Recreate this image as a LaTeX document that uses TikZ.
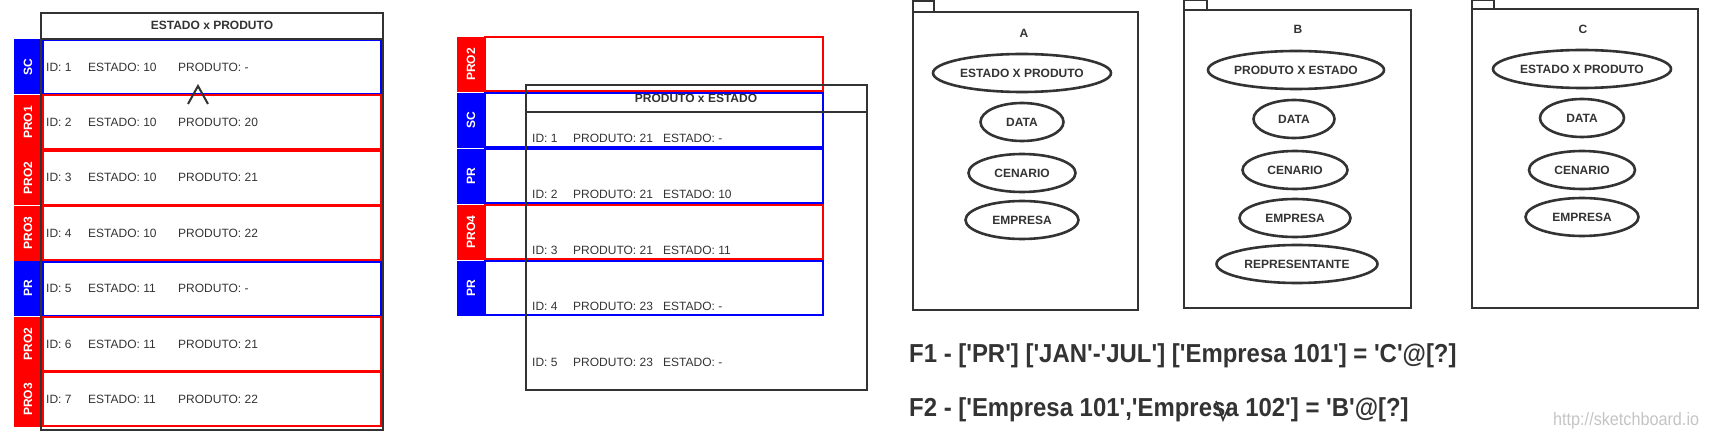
\documentclass[tikz,border=0pt]{standalone}
\usepackage{fontspec}
\setmainfont{Liberation Sans}[Ligatures=TeXOff]
\usetikzlibrary{positioning, calc}
\usetikzlibrary{shapes.geometric}

\definecolor{ink}{HTML}{333333}
\definecolor{redrow}{HTML}{FF0000}
\definecolor{bluerow}{HTML}{0000FF}
\definecolor{mark}{HTML}{C4C4C4}

\tikzset{
    rowbox/.style={draw, line width=2pt, minimum width=338pt, minimum height=54pt, inner sep=0pt},
    tabbox/.style={rotate=90, minimum width=55pt, minimum height=28pt, inner sep=0pt, text=white, font=\bfseries\fontsize{12}{14}\selectfont},
    celltxt/.style={anchor=west, inner sep=0pt, text=ink, font=\fontsize{12}{14}\selectfont},
    headtxt/.style={inner sep=0pt, text=ink, font=\bfseries\fontsize{12}{14}\selectfont},
    frame/.style={draw=ink, line width=2.6pt},
    usecase/.style={ellipse, draw=ink, line width=2.6pt, inner sep=0pt, minimum height=38pt, text=ink, font=\bfseries\fontsize{12}{14}\selectfont},
    bigtxt/.style={anchor=west, inner sep=0pt, text=ink, font=\bfseries\fontsize{26}{30}\selectfont}
}

\begin{document}
\begin{tikzpicture}[x=1pt, y=-1pt]
    \useasboundingbox (0,0) rectangle (1712,446);

    % ESTADO x PRODUTO
    \foreach \tb/\cl/\id/\es/\pr [count=\i from 0] in {SC/bluerow/1/10/-, PRO1/redrow/2/10/20, PRO2/redrow/3/10/21, PRO3/redrow/4/10/22, PR/bluerow/5/11/-, PRO2/redrow/6/11/21, PRO3/redrow/7/11/22}{
        \pgfmathsetmacro{\yc}{67+55.4*\i}
        \node[rowbox, draw=\cl] (rowL\i) at (212,\yc) {};
        \node[tabbox, fill=\cl] (tabL\i) at (28,\yc) {\tb};
        \node[celltxt] (idL\i) at (46,\yc) {ID: \id};
        \node[celltxt] (estL\i) at (88,\yc) {ESTADO: \es};
        \node[celltxt] (prodL\i) at (178,\yc) {PRODUTO: \pr};
    }
    \draw[frame] (41,13) rectangle (383,430);
    \draw[frame] (41,39) -- (383,39);
    \node[headtxt] (headL) at (212,25) {ESTADO x PRODUTO};
    \coordinate (caretL) at (198,86);
    \draw[ink, line width=2pt] ($(caretL)+(-10,18)$) -- (caretL) -- ($(caretL)+(10,18)$);

    % PRODUTO x ESTADO
    \foreach \tb/\cl [count=\i from 0] in {PRO2/redrow, SC/bluerow, PR/bluerow, PRO4/redrow, PR/bluerow}{
        \pgfmathsetmacro{\yc}{64.5+55.9*\i}
        \node[rowbox, draw=\cl] (rowM\i) at (654,\yc) {};
        \node[tabbox, fill=\cl] (tabM\i) at (471,\yc) {\tb};
    }
    \draw[frame] (526,85) rectangle (867,390);
    \draw[frame] (526,112) -- (867,112);
    \node[headtxt] (headM) at (696,98) {PRODUTO x ESTADO};
    \foreach \id/\pr/\es [count=\i from 0] in {1/21/-, 2/21/10, 3/21/11, 4/23/-, 5/23/-}{
        \pgfmathsetmacro{\yc}{138+56*\i}
        \node[celltxt] (idM\i) at (532,\yc) {ID: \id};
        \node[celltxt] (prodM\i) at (573,\yc) {PRODUTO: \pr};
        \node[celltxt] (estM\i) at (663,\yc) {ESTADO: \es};
    }

    % pacotes A, B, C
    \draw[frame] (913,12) rectangle (1138,310);
    \draw[frame] (913,12) -- (913,1) -- (934,1) -- (934,12);
    \node[headtxt] (pkgA) at (1024,33) {A};
    \node[usecase, minimum width=178pt] (estprodA) at (1022,73) {ESTADO X PRODUTO};
    \node[usecase, minimum width=83pt] (dataA) at (1022,122) {DATA};
    \node[usecase, minimum width=107pt] (cenA) at (1022,173) {CENARIO};
    \node[usecase, minimum width=113pt] (empA) at (1022,220) {EMPRESA};

    \draw[frame] (1184,10) rectangle (1411,308);
    \draw[frame] (1184,10) -- (1184,0) -- (1207,0) -- (1207,10);
    \node[headtxt] (pkgB) at (1298,29) {B};
    \node[usecase, minimum width=176pt] (prodestB) at (1296,70) {PRODUTO X ESTADO};
    \node[usecase, minimum width=81pt] (dataB) at (1294,119) {DATA};
    \node[usecase, minimum width=105pt] (cenB) at (1295,170) {CENARIO};
    \node[usecase, minimum width=111pt] (empB) at (1295,218) {EMPRESA};
    \node[usecase, minimum width=161pt] (repB) at (1297,264) {REPRESENTANTE};

    \draw[frame] (1472,9) rectangle (1698,308);
    \draw[frame] (1472,9) -- (1472,0) -- (1494,0) -- (1494,9);
    \node[headtxt] (pkgC) at (1583,29) {C};
    \node[usecase, minimum width=178pt] (estprodC) at (1582,69) {ESTADO X PRODUTO};
    \node[usecase, minimum width=84pt] (dataC) at (1582,118) {DATA};
    \node[usecase, minimum width=106pt] (cenC) at (1582,170) {CENARIO};
    \node[usecase, minimum width=113pt] (empC) at (1582,217) {EMPRESA};

    % formulas
    \node[bigtxt] (fF1) at (909,356) {\scalebox{0.92}[1]{F1 - ['PR'] ['JAN'-'JUL'] ['Empresa 101'] = 'C'@[?]}};
    \node[bigtxt] (fF2) at (909,410) {\scalebox{0.92}[1]{F2 - ['Empresa 101','Empresa 102'] = 'B'@[?]}};
    \coordinate (caretF) at (1223,420);
    \draw[ink, line width=1.6pt] ($(caretF)+(-7,-19)$) -- (caretF) -- ($(caretF)+(6,-14)$);
    \node[anchor=west, inner sep=0pt, text=mark, font=\fontsize{18}{20}\selectfont] (sketch) at (1553,421) {\scalebox{0.9}[1]{http://sketchboard.io}};
\end{tikzpicture}
\end{document}
